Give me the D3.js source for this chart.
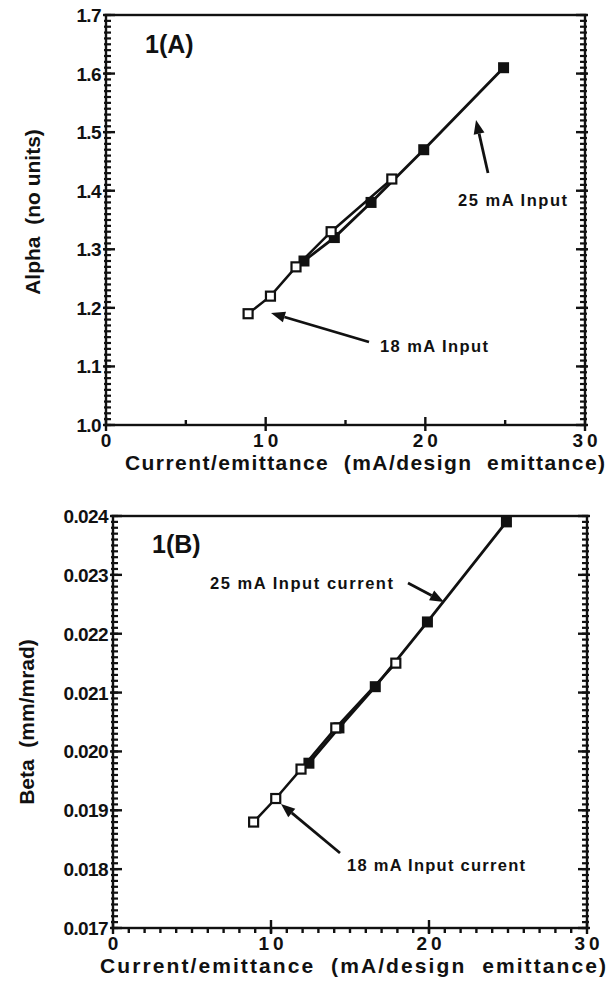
<!DOCTYPE html>
<html>
<head>
<meta charset="utf-8">
<script src="https://cdn.jsdelivr.net/npm/d3@7"></script>
<style>
  body { margin: 0; background: #fff; }
  svg text { font-family: "Liberation Sans", Arial, sans-serif; font-weight: bold; fill: #111; white-space: pre; }
</style>
</head>
<body>
<svg id="chart" width="615" height="994"></svg>
<script>
// current/emittance for each run (same x for both panels)
const current18 = [8.9, 10.3, 11.9, 14.1, 17.9];
const current25 = [12.4, 14.3, 16.6, 19.9, 24.9];

// panel A: alpha
const alpha18 = [1.19, 1.22, 1.27, 1.33, 1.42];
const alpha25 = [1.28, 1.32, 1.38, 1.47, 1.61];

// panel B: beta (mm/mrad)
const beta18 = [0.0188, 0.0192, 0.0197, 0.0204, 0.0215];
const beta25 = [0.0198, 0.0204, 0.0211, 0.0222, 0.0239];

const xTicks = [0, 10, 20, 30];
const alphaTicks = [1.0, 1.1, 1.2, 1.3, 1.4, 1.5, 1.6, 1.7];
const betaTicks = [0.017, 0.018, 0.019, 0.020, 0.021, 0.022, 0.023, 0.024];

const svg = d3.select("#chart");
const ink = "#111";

function drawPanel(p) {
    const x = d3.scaleLinear().domain([0, 30]).range([p.left, p.right]);
    const y = d3.scaleLinear().domain(p.yDomain).range([p.bottom, p.top]);
    const g = svg.append("g");

    // frame
    g.append("rect")
        .attr("x", p.left).attr("y", p.top)
        .attr("width", p.right - p.left).attr("height", p.bottom - p.top)
        .attr("fill", "none").attr("stroke", ink).attr("stroke-width", 2.4);

    // y minor + major ticks on both sides, pointing in
    const nMinor = Math.round((p.yDomain[1] - p.yDomain[0]) / p.yMinor);
    const minorY = d3.range(nMinor + 1).map(i => p.yDomain[0] + i * p.yMinor);
    g.append("g").selectAll("line").data(minorY).join("line")
        .attr("x1", p.left - 2).attr("x2", p.left + 5)
        .attr("y1", d => y(d)).attr("y2", d => y(d))
        .attr("stroke", ink).attr("stroke-width", 2.2);
    g.append("g").selectAll("line").data(minorY).join("line")
        .attr("x1", p.right + 2).attr("x2", p.right - 5)
        .attr("y1", d => y(d)).attr("y2", d => y(d))
        .attr("stroke", ink).attr("stroke-width", 2.2);
    g.append("g").selectAll("line").data(p.yTicks).join("line")
        .attr("x1", p.left - 3).attr("x2", p.left + 9)
        .attr("y1", d => y(d)).attr("y2", d => y(d))
        .attr("stroke", ink).attr("stroke-width", 2.4);
    g.append("g").selectAll("line").data(p.yTicks).join("line")
        .attr("x1", p.right + 3).attr("x2", p.right - 9)
        .attr("y1", d => y(d)).attr("y2", d => y(d))
        .attr("stroke", ink).attr("stroke-width", 2.4);

    // x ticks along the bottom
    g.append("g").selectAll("line").data(p.xMinor).join("line")
        .attr("x1", d => x(d)).attr("x2", d => x(d))
        .attr("y1", p.bottom).attr("y2", p.bottom + p.xMinorDir * 5)
        .attr("stroke", ink).attr("stroke-width", 2.4);
    g.append("g").selectAll("line").data(xTicks).join("line")
        .attr("x1", d => x(d)).attr("x2", d => x(d))
        .attr("y1", p.bottom - 8).attr("y2", p.bottom + 6)
        .attr("stroke", ink).attr("stroke-width", 2.4);

    // tick labels
    g.append("g").selectAll("text").data(p.yTicks).join("text")
        .attr("x", p.left - 5).attr("y", d => y(d) + 7)
        .attr("text-anchor", "end").attr("font-size", 19)
        .attr("letter-spacing", -0.6)
        .text(p.yFormat);
    g.append("g").selectAll("text").data(xTicks).join("text")
        .attr("x", d => x(d) + (d ? 2 : 0)).attr("y", p.bottom + 22)
        .attr("text-anchor", "middle").attr("font-size", 19)
        .attr("letter-spacing", d => d ? 4 : 0)
        .text(d => d);

    // axis titles
    g.append("text")
        .attr("x", p.titleX).attr("y", p.bottom + 45)
        .attr("font-size", 21)
        .attr("textLength", p.titleLen).attr("lengthAdjust", "spacing")
        .text("Current/emittance  (mA/design  emittance)");
    g.append("text")
        .attr("transform", `translate(${p.yTitleX},${p.yTitleY}) rotate(-90)`)
        .attr("text-anchor", "middle").attr("font-size", 21)
        .text(p.yTitle);

    // panel label
    g.append("text")
        .attr("x", p.labelX).attr("y", p.labelY)
        .attr("font-size", 25)
        .text(p.label);

    // series
    const line = d3.line().x(d => x(d[0])).y(d => y(d[1]));
    const s18 = current18.map((c, i) => [c, p.v18[i]]);
    const s25 = current25.map((c, i) => [c, p.v25[i]]);

    g.append("path").datum(s25).attr("d", line)
        .attr("fill", "none").attr("stroke", ink).attr("stroke-width", 2.8);
    g.append("path").datum(s18).attr("d", line)
        .attr("fill", "none").attr("stroke", ink).attr("stroke-width", 2.5);

    g.append("g").selectAll("rect").data(s25).join("rect")
        .attr("x", d => x(d[0]) - 5.5).attr("y", d => y(d[1]) - 5.5)
        .attr("width", 11).attr("height", 11).attr("fill", ink);
    g.append("g").selectAll("rect").data(s18).join("rect")
        .attr("x", d => x(d[0]) - 4.5).attr("y", d => y(d[1]) - 4.5)
        .attr("width", 9).attr("height", 9)
        .attr("fill", "#fff").attr("stroke", ink).attr("stroke-width", 2.2);

    // annotations
    p.notes.forEach(n => {
        g.append("text")
            .attr("x", n.tx).attr("y", n.ty)
            .attr("font-size", 16.5)
            .attr("textLength", n.len).attr("lengthAdjust", "spacing")
            .text(n.text);
        drawArrow(g, n.from, n.to);
    });
}

function drawArrow(g, from, to) {
    const [x1, y1] = from, [x2, y2] = to;
    const ang = Math.atan2(y2 - y1, x2 - x1);
    const len = 14, w = 5.5;
    const bx = x2 - len * Math.cos(ang), by = y2 - len * Math.sin(ang);
    g.append("line")
        .attr("x1", x1).attr("y1", y1).attr("x2", bx).attr("y2", by)
        .attr("stroke", ink).attr("stroke-width", 2.8);
    g.append("path")
        .attr("d", `M${x2},${y2} L${bx + w * Math.sin(ang)},${by - w * Math.cos(ang)} L${bx - w * Math.sin(ang)},${by + w * Math.cos(ang)} Z`)
        .attr("fill", ink);
}

drawPanel({
    left: 106, right: 585, top: 15, bottom: 425,
    yDomain: [1.0, 1.7], yMinor: 0.01, yTicks: alphaTicks,
    yFormat: d3.format(".1f"),
    xMinor: [5, 15, 25], xMinorDir: -1,
    titleX: 125, titleLen: 480,
    yTitle: "Alpha  (no units)", yTitleX: 40, yTitleY: 212,
    label: "1(A)", labelX: 145, labelY: 53,
    v18: alpha18, v25: alpha25,
    notes: [
        { text: "25 mA Input", tx: 458, ty: 206, len: 109, from: [488, 173], to: [476, 120] },
        { text: "18 mA Input", tx: 380, ty: 352, len: 108, from: [369, 342], to: [271, 313] }
    ]
});

drawPanel({
    left: 113, right: 587, top: 516, bottom: 928,
    yDomain: [0.017, 0.024], yMinor: 0.0001, yTicks: betaTicks,
    yFormat: d3.format(".3f"),
    xMinor: d3.range(1, 30), xMinorDir: 1,
    titleX: 100, titleLen: 506,
    yTitle: "Beta  (mm/mrad)", yTitleX: 34, yTitleY: 722,
    label: "1(B)", labelX: 152, labelY: 553,
    v18: beta18, v25: beta25,
    notes: [
        { text: "25 mA Input current", tx: 210, ty: 589, len: 183, from: [408, 583], to: [444, 602] },
        { text: "18 mA Input current", tx: 347, ty: 871, len: 178, from: [340, 853], to: [281, 804] }
    ]
});
</script>
</body>
</html>
